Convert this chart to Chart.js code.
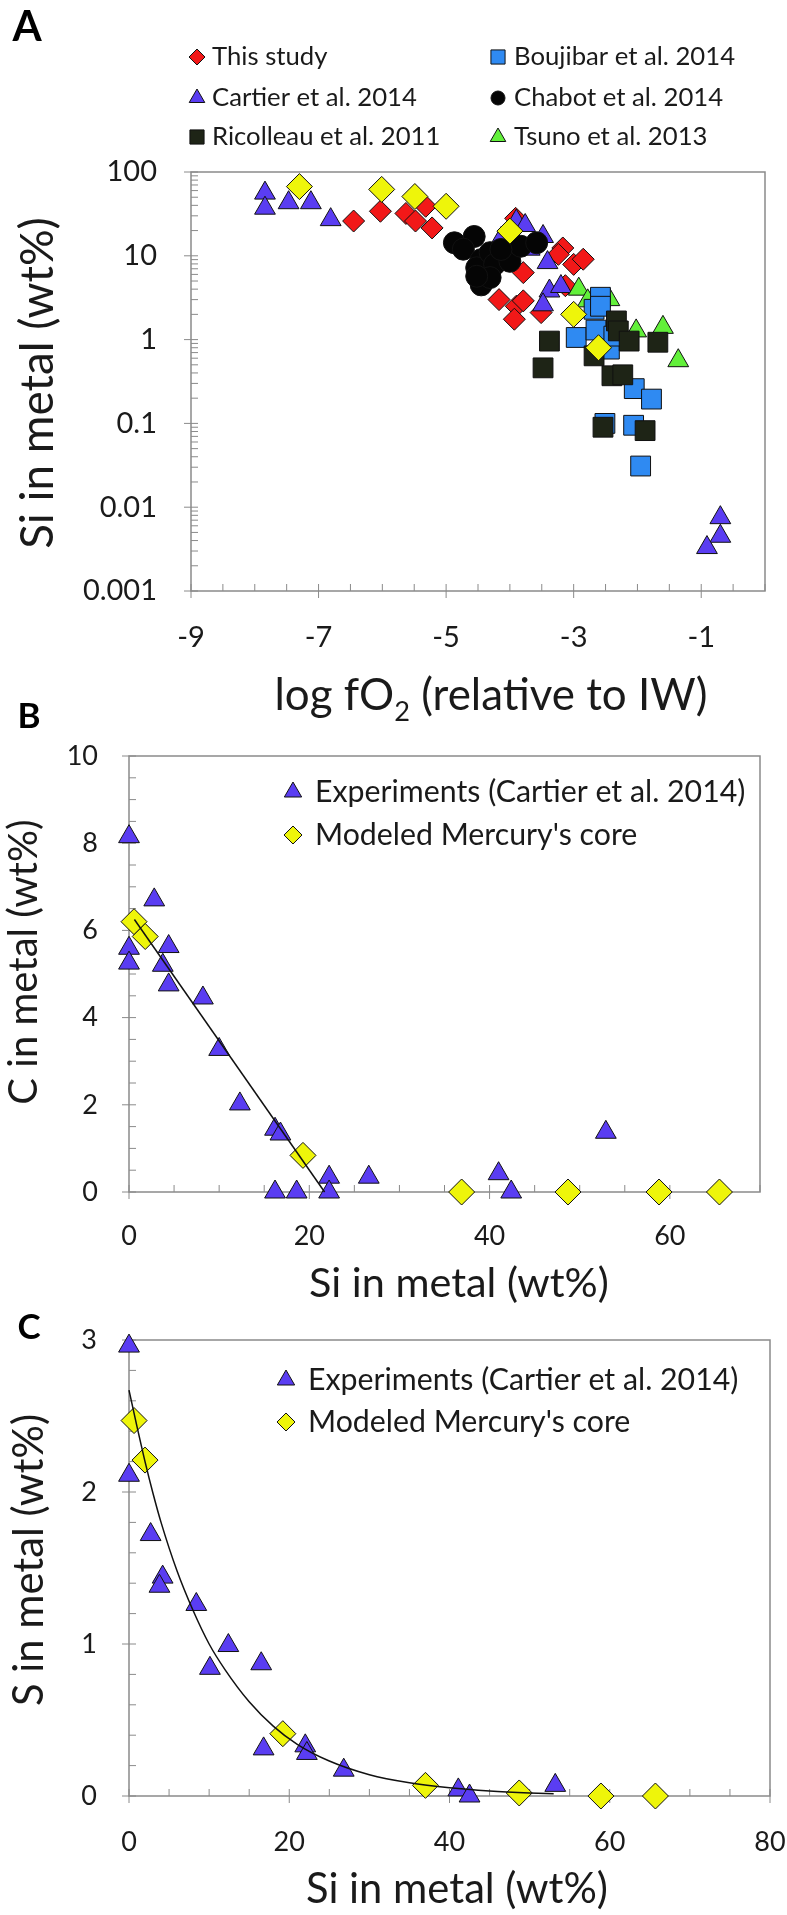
<!DOCTYPE html>
<html>
<head>
<meta charset="utf-8">
<script src="https://cdn.jsdelivr.net/npm/chart.js@4.4.1/dist/chart.umd.min.js"></script>
<style>
  html, body { margin: 0; padding: 0; background: #fff; }
  #wrap { position: relative; width: 787px; height: 1915px; }
  #wrap canvas { position: absolute; left: 0; top: 0; }
</style>
</head>
<body>
<div id="wrap">
  <canvas id="chartA" width="787" height="1915"></canvas>
  <canvas id="chartB" width="787" height="1915"></canvas>
  <canvas id="chartC" width="787" height="1915"></canvas>
</div>
<script>
// ---- panel A : Si in metal vs log fO2 ----
const aXTicks = [-9, -7, -5, -3, -1];
const aYTicks = [0.001, 0.01, 0.1, 1, 10, 100];
const aSeriesNames = ['This study', 'Boujibar et al. 2014', 'Cartier et al. 2014',
  'Chabot et al. 2014', 'Ricolleau et al. 2011', 'Tsuno et al. 2013'];

const thisStudyX = [-6.45, -6.03, -5.63, -5.48, -5.32, -5.22, -3.91, -4.17, -3.9, -3.79, -3.93, -3.51, -3.79, -3.17, -3.24, -3.0, -2.85, -3.13];
const thisStudyY = [26, 34, 32, 26, 39, 21.5, 28, 3.0, 2.5, 2.9, 1.75, 2.1, 6.3, 12.4, 10.4, 7.9, 9.1, 4.4];

const boujibarX = [-2.58, -2.68, -2.96, -2.65, -2.44, -2.37, -2.05, -1.78, -2.51, -2.06, -1.95, -2.58];
const boujibarY = [3.2, 2.3, 1.06, 1.3, 0.77, 1.1, 0.26, 0.195, 0.10, 0.095, 0.031, 2.5];

const cartierAX = [-7.84, -7.84, -7.47, -7.12, -6.81, -4.14, -3.9, -3.76, -3.48, -3.41, -3.69, -3.38, -3.2, -3.48, -0.7, -0.7, -0.91];
const cartierAY = [56, 37, 43, 43, 27, 16, 26, 23, 17, 8.3, 12, 3.8, 4.3, 2.6, 0.0075, 0.0045, 0.0033];

const chabotX = [-4.87, -4.56, -4.73, -4.45, -4.52, -4.31, -4.24, -4.45, -4.31, -4.0, -3.83, -3.58, -4.52, -4.14];
const chabotY = [14.3, 17, 12, 9, 7.2, 10.9, 7.9, 4.5, 5.5, 8.6, 13, 14.3, 5.7, 11.9];

const ricolleauX = [-3.38, -3.48, -2.33, -2.3, -2.13, -2.68, -2.4, -2.23, -2.54, -1.88, -1.68];
const ricolleauY = [0.96, 0.46, 1.67, 1.27, 0.96, 0.64, 0.37, 0.38, 0.09, 0.082, 0.93];

const tsunoX = [-2.92, -2.78, -2.44, -2.02, -1.6, -1.36];
const tsunoY = [4.0, 2.9, 3.0, 1.27, 1.4, 0.56];

const mercuryAX = [-7.3, -6.01, -5.49, -5.0, -4.0, -3.0, -2.61];
const mercuryAY = [67, 62, 51, 39, 19.7, 2.0, 0.8];

// ---- panel B : C in metal vs Si in metal ----
const bXTicks = [0, 20, 40, 60];
const bYTicks = [0, 2, 4, 6, 8, 10];
const cartierBSi = [0, 2.8, 0, 0, 4.4, 3.75, 4.4, 8.2, 10.0, 12.3, 16.2, 16.8, 16.2, 18.6, 22.2, 22.2, 26.6, 41.0, 42.4, 52.9];
const cartierBC = [8.15, 6.7, 5.59, 5.25, 5.63, 5.2, 4.75, 4.45, 3.27, 2.02, 1.44, 1.33, 0, 0, 0.34, 0, 0.34, 0.42, 0, 1.37];
const mercuryBSi = [0.56, 1.8, 19.3, 36.9, 48.7, 58.8, 65.5];
const mercuryBC = [6.2, 5.86, 0.84, 0, 0, 0, 0];
const trendBSi = [0.6, 21.7];
const trendBC = [6.25, 0];

// ---- panel C : S in metal vs Si in metal ----
const cXTicks = [0, 20, 40, 60, 80];
const cYTicks = [0, 1, 2, 3];
const cartierCSi = [0, 0, 2.7, 4.2, 3.8, 8.4, 12.4, 10.1, 16.5, 16.8, 22.0, 22.2, 26.8, 41.1, 42.5, 53.2];
const cartierCS = [2.96, 2.11, 1.72, 1.44, 1.38, 1.26, 0.99, 0.84, 0.87, 0.31, 0.33, 0.28, 0.17, 0.04, 0.0, 0.07];
const mercuryCSi = [0.63, 2.0, 19.2, 37.0, 48.7, 58.9, 65.7];
const mercuryCS = [2.47, 2.21, 0.41, 0.07, 0.02, 0.0, 0.0];
const trendCSi = [0, 1, 2, 3, 4, 6, 8, 10, 12, 15, 18, 21, 25, 30, 35, 40, 45, 50, 53];
const trendCS = [2.67, 2.43, 2.2, 1.99, 1.8, 1.48, 1.22, 1.0, 0.83, 0.62, 0.46, 0.34, 0.23, 0.14, 0.087, 0.054, 0.033, 0.02, 0.015];

const twoSeriesNames = ['Experiments (Cartier et al. 2014)', "Modeled Mercury's core"];

// colours
const RED = '#f21818', BLUE = '#2f8af2', PURPLE = '#5a3df2', BLACK = '#050505',
  DARK = '#1e2416', GREEN = '#62f03a', YELLOW = '#eef50a';
const GRAY = '#8a8a8a', TXT = '#1a1a1a';
const FONT = 'Lato, "Open Sans", sans-serif';

Chart.defaults.font.family = FONT;

const pts = (xs, ys) => xs.map((x, i) => ({ x: x, y: ys[i] }));

function marks(data, style, r, color) {
  return { data: data, pointStyle: style, pointRadius: r, pointHoverRadius: r,
    backgroundColor: color, borderColor: '#111', borderWidth: 1, showLine: false, clip: false };
}
function trend(data, smooth) {
  return { data: data, showLine: true, pointRadius: 0, borderColor: '#111', borderWidth: 1.5,
    fill: false, clip: false, cubicInterpolationMode: smooth ? 'monotone' : 'default' };
}

function drawMarker(ctx, style, x, y, r, fill) {
  ctx.beginPath();
  if (style === 'triangle') {
    ctx.moveTo(x, y - r);
    ctx.lineTo(x + r * 0.866, y + r * 0.5);
    ctx.lineTo(x - r * 0.866, y + r * 0.5);
  } else if (style === 'rectRot') {
    ctx.moveTo(x, y - r); ctx.lineTo(x + r, y); ctx.lineTo(x, y + r); ctx.lineTo(x - r, y);
  } else if (style === 'rect') {
    const s = r * Math.SQRT1_2;
    ctx.rect(x - s, y - s, 2 * s, 2 * s);
  } else {
    ctx.arc(x, y, r, 0, Math.PI * 2);
  }
  ctx.closePath();
  ctx.fillStyle = fill; ctx.fill();
  ctx.strokeStyle = '#111'; ctx.lineWidth = 1; ctx.stroke();
}

// font size that makes a text run as wide as in the original figure
function fitSize(ctx, texts, target) {
  ctx.font = '40px ' + FONT;
  const w = texts.reduce((s, t) => s + ctx.measureText(t).width, 0);
  return 40 * target / w;
}

// frame, excel-like tick marks, titles and legend
function decor(o) {
  return {
    id: 'decor',
    beforeDatasetsDraw(chart) {
      const ctx = chart.ctx, a = chart.chartArea, xs = chart.scales.x, ys = chart.scales.y;
      ctx.save();
      ctx.strokeStyle = GRAY;
      ctx.lineWidth = 1.5;
      ctx.strokeRect(a.left, a.top, a.right - a.left, a.bottom - a.top);
      ctx.lineWidth = 1;
      ctx.beginPath();
      // x ticks
      const nx = Math.round((o.xMax - o.xMin) / o.xMinor);
      for (let i = 0; i <= nx; i++) {
        const v = o.xMin + i * o.xMinor;
        const px = xs.getPixelForValue(v);
        const major = o.xTicks.some(t => Math.abs(t - v) < 1e-9);
        ctx.moveTo(px, a.bottom - 7);
        ctx.lineTo(px, major ? a.bottom + 7 : a.bottom);
      }
      // y ticks
      const yv = [];
      if (o.log) {
        o.yTicks.forEach((d, i) => {
          yv.push([d, true]);
          if (i < o.yTicks.length - 1) for (let k = 2; k < 10; k++) yv.push([d * k, false]);
        });
      } else {
        const ny = Math.round((o.yMax - o.yMin) / o.yMinor);
        for (let i = 0; i <= ny; i++) {
          const v = o.yMin + i * o.yMinor;
          yv.push([v, o.yTicks.some(t => Math.abs(t - v) < 1e-9)]);
        }
      }
      yv.forEach(([v, major]) => {
        const py = ys.getPixelForValue(v);
        ctx.moveTo(major ? a.left - 7 : a.left, py);
        ctx.lineTo(a.left + 7, py);
      });
      ctx.stroke();
      ctx.restore();
    },
    afterDraw(chart) {
      const ctx = chart.ctx;
      ctx.save();
      ctx.textBaseline = 'middle';
      // panel letter
      ctx.fillStyle = '#000';
      ctx.textAlign = 'center';
      ctx.font = 'bold ' + o.letter[3] + 'px ' + FONT;
      ctx.fillText(o.letter[0], o.letter[1], o.letter[2]);
      // legend
      ctx.textAlign = 'left';
      const ls = fitSize(ctx, [o.legendRef[0]], o.legendRef[1]);
      ctx.font = ls.toFixed(1) + 'px ' + FONT;
      o.legend.forEach(it => {
        drawMarker(ctx, it.style, it.mx, it.y, it.r, it.color);
        ctx.fillStyle = TXT;
        ctx.fillText(it.label, it.tx, it.y);
      });
      // y title
      ctx.save();
      const ys = fitSize(ctx, [o.yTitle.text], o.yTitle.w);
      ctx.translate(o.yTitle.x, o.yTitle.y);
      ctx.rotate(-Math.PI / 2);
      ctx.textAlign = 'center';
      ctx.font = ys.toFixed(1) + 'px ' + FONT;
      ctx.fillStyle = TXT;
      ctx.fillText(o.yTitle.text, 0, 0);
      ctx.restore();
      // x title (parts allow a subscript), drawn on its baseline
      ctx.fillStyle = TXT;
      ctx.textAlign = 'left';
      ctx.textBaseline = 'alphabetic';
      const parts = o.xTitle.parts;
      const fontOf = (p, s) => (p.sub ? s * 0.62 : s).toFixed(1) + 'px ' + FONT;
      // measure all parts at a base size, then scale to the target width
      let base = 0;
      parts.forEach(p => { ctx.font = fontOf(p, 40); base += ctx.measureText(p.t).width; });
      const size = 40 * o.xTitle.w / base;
      let cx = o.xTitle.x - o.xTitle.w / 2;
      parts.forEach(p => {
        ctx.font = fontOf(p, size);
        ctx.fillText(p.t, cx, o.xTitle.y + (p.sub ? size * 0.26 : 0));
        cx += ctx.measureText(p.t).width;
      });
      ctx.restore();
    }
  };
}

function makePanel(id, o) {
  const axisH = 70;
  return new Chart(document.getElementById(id), {
    type: 'scatter',
    data: { datasets: o.datasets },
    options: {
      responsive: false,
      animation: false,
      events: [],
      layout: { padding: { left: 0, top: o.area.top, right: 787 - o.area.right, bottom: 1915 - o.area.bottom - axisH } },
      plugins: { legend: { display: false }, tooltip: { enabled: false } },
      scales: {
        x: {
          type: 'linear', min: o.xMin, max: o.xMax,
          grid: { display: false, drawTicks: false }, border: { display: false },
          afterBuildTicks: s => { s.ticks = o.xTicks.map(v => ({ value: v })); },
          afterFit: s => { s.height = axisH; s.paddingLeft = 0; s.paddingRight = 0; },
          ticks: { padding: o.xPad, font: { size: o.tickSize }, color: TXT, maxRotation: 0, autoSkip: false,
            callback: v => String(v) }
        },
        y: {
          type: o.log ? 'logarithmic' : 'linear', min: o.yMin, max: o.yMax,
          grid: { display: false, drawTicks: false }, border: { display: false },
          afterBuildTicks: s => { s.ticks = o.yTicks.map(v => ({ value: v })); },
          afterFit: s => { s.width = o.area.left; s.paddingTop = 0; s.paddingBottom = 0; },
          ticks: { padding: o.yPad, font: { size: o.tickSize }, color: TXT, autoSkip: false,
            callback: v => String(v) }
        }
      }
    },
    plugins: [decor(o)]
  });
}

// Panel A
makePanel('chartA', {
  area: { left: 191, right: 765, top: 172, bottom: 591 },
  xMin: -9, xMax: 0, xMinor: 0.5, xTicks: aXTicks,
  yMin: 0.001, yMax: 100, log: true, yTicks: aYTicks,
  tickSize: 29, xPad: 29, yPad: 34,
  legendRef: [aSeriesNames[1], 221],
  letter: ['A', 27, 27, 42],
  yTitle: { text: 'Si in metal (wt%)', x: 38, y: 383, w: 332 },
  xTitle: { x: 491, y: 710, w: 433, parts: [{ t: 'log fO' }, { t: '2', sub: true }, { t: ' (relative to IW)' }] },
  legend: [
    { style: 'rectRot', r: 8, color: RED, mx: 197, tx: 212, y: 57, label: aSeriesNames[0] },
    { style: 'rect', r: 10, color: BLUE, mx: 498, tx: 514, y: 57, label: aSeriesNames[1] },
    { style: 'triangle', r: 9, color: PURPLE, mx: 197, tx: 212, y: 98, label: aSeriesNames[2] },
    { style: 'circle', r: 7, color: BLACK, mx: 498, tx: 514, y: 98, label: aSeriesNames[3] },
    { style: 'rect', r: 10, color: DARK, mx: 197, tx: 212, y: 137, label: aSeriesNames[4] },
    { style: 'triangle', r: 9, color: GREEN, mx: 498, tx: 514, y: 137, label: aSeriesNames[5] }
  ],
  datasets: [
    marks(pts(mercuryAX, mercuryAY), 'rectRot', 13, YELLOW),
    marks(pts(ricolleauX, ricolleauY), 'rect', 14, DARK),
    marks(pts(chabotX, chabotY), 'circle', 11, BLACK),
    marks(pts(boujibarX, boujibarY), 'rect', 14, BLUE),
    marks(pts(tsunoX, tsunoY), 'triangle', 12, GREEN),
    marks(pts(cartierAX, cartierAY), 'triangle', 12, PURPLE),
    marks(pts(thisStudyX, thisStudyY), 'rectRot', 11, RED)
  ]
});

// Panel B
makePanel('chartB', {
  area: { left: 129, right: 760, top: 756, bottom: 1192 },
  xMin: 0, xMax: 70, xMinor: 5, xTicks: bXTicks,
  yMin: 0, yMax: 10, yMinor: 0.5, yTicks: bYTicks,
  tickSize: 27, xPad: 28, yPad: 31,
  legendRef: [twoSeriesNames[0], 430],
  letter: ['B', 29, 717, 35],
  yTitle: { text: 'C in metal (wt%)', x: 24, y: 962, w: 285 },
  xTitle: { x: 459, y: 1297, w: 300, parts: [{ t: 'Si in metal (wt%)' }] },
  legend: [
    { style: 'triangle', r: 10, color: PURPLE, mx: 293, tx: 315, y: 792, label: twoSeriesNames[0] },
    { style: 'rectRot', r: 9, color: YELLOW, mx: 293, tx: 315, y: 835, label: twoSeriesNames[1] }
  ],
  datasets: [
    trend(pts(trendBSi, trendBC), false),
    marks(pts(mercuryBSi, mercuryBC), 'rectRot', 13, YELLOW),
    marks(pts(cartierBSi, cartierBC), 'triangle', 12, PURPLE)
  ]
});

// Panel C
makePanel('chartC', {
  area: { left: 129, right: 770, top: 1340, bottom: 1796 },
  xMin: 0, xMax: 80, xMinor: 5, xTicks: cXTicks,
  yMin: 0, yMax: 3, yMinor: 0.2, yTicks: cYTicks,
  tickSize: 27, xPad: 30, yPad: 32,
  legendRef: [twoSeriesNames[0], 430],
  letter: ['C', 29, 1328, 35],
  yTitle: { text: 'S in metal (wt%)', x: 30, y: 1560, w: 292 },
  xTitle: { x: 457, y: 1903, w: 302, parts: [{ t: 'Si in metal (wt%)' }] },
  legend: [
    { style: 'triangle', r: 10, color: PURPLE, mx: 286, tx: 308, y: 1380, label: twoSeriesNames[0] },
    { style: 'rectRot', r: 9, color: YELLOW, mx: 286, tx: 308, y: 1422, label: twoSeriesNames[1] }
  ],
  datasets: [
    trend(pts(trendCSi, trendCS), true),
    marks(pts(mercuryCSi, mercuryCS), 'rectRot', 13, YELLOW),
    marks(pts(cartierCSi, cartierCS), 'triangle', 12, PURPLE)
  ]
});
</script>
</body>
</html>
